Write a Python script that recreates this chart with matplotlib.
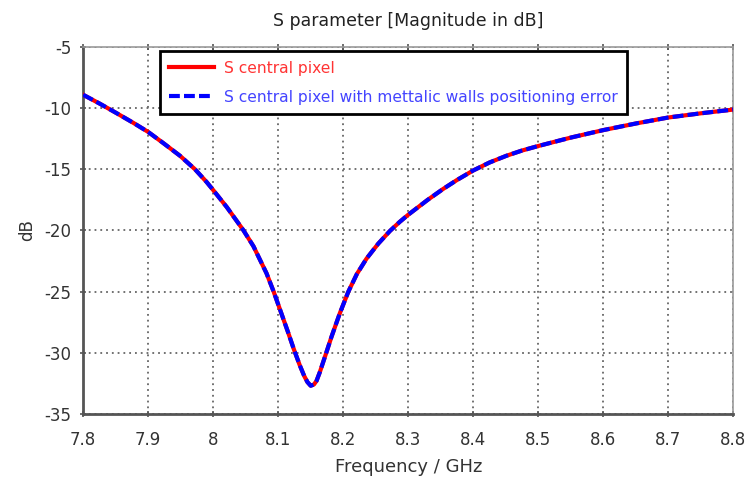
import matplotlib
matplotlib.use('Agg')
import matplotlib.pyplot as plt

# values
freq = [7.800, 7.826, 7.851, 7.877, 7.900, 7.923, 7.949, 7.972, 7.990, 8.000,
        8.021, 8.046, 8.062, 8.082, 8.093, 8.103, 8.115, 8.124, 8.133, 8.140,
        8.145, 8.150, 8.155, 8.159, 8.164, 8.169, 8.174, 8.182, 8.195, 8.208,
        8.221, 8.236, 8.254, 8.272, 8.287, 8.300, 8.330, 8.354, 8.375, 8.400,
        8.425, 8.451, 8.475, 8.500, 8.551, 8.600, 8.651, 8.700, 8.751, 8.800]
s_central = [-8.91, -9.65, -10.4, -11.2, -11.95, -12.85, -13.9, -15.0, -16.05, -16.7,
             -18.1, -19.95, -21.3, -23.5, -25.0, -26.5, -28.3, -29.7, -31.0, -31.9,
             -32.4, -32.7, -32.6, -32.3, -31.6, -30.8, -30.0, -28.7, -26.75, -25.0,
             -23.57, -22.3, -21.08, -20.04, -19.3, -18.72, -17.5, -16.6, -15.88, -15.1,
             -14.45, -13.9, -13.47, -13.1, -12.4, -11.8, -11.25, -10.77, -10.42, -10.12]
s_error = list(s_central)

xticks = [7.8, 7.9, 8.0, 8.1, 8.2, 8.3, 8.4, 8.5, 8.6, 8.7, 8.8]
xtick_labels = ['7.8', '7.9', '8', '8.1', '8.2', '8.3', '8.4', '8.5', '8.6', '8.7', '8.8']
yticks = [-35, -30, -25, -20, -15, -10, -5]

plt.rcParams['font.family'] = ['DejaVu Sans']
plt.rcParams['axes.unicode_minus'] = False

fig = plt.figure(figsize=(7.49, 4.79), dpi=100)
ax = fig.add_axes([0.111, 0.136, 0.868, 0.766])

ax.plot(freq, s_central, color='#ff0000', lw=3, label='S central pixel',
        solid_joinstyle='round', zorder=3)
ax.plot(freq, s_error, color='#0000ff', lw=3, dashes=(2.6, 1.0),
        label='S central pixel with mettalic walls positioning error',
        dash_joinstyle='round', zorder=4)

ax.set_xlim(7.8, 8.8)
ax.set_ylim(-35, -5)
ax.set_xticks(xticks)
ax.set_xticklabels(xtick_labels)
ax.set_yticks(yticks)

ax.grid(True, color='#666666', linestyle=(0, (1, 2.2)), linewidth=1.3)

for side in ['left', 'bottom']:
    ax.spines[side].set_color('#555555')
    ax.spines[side].set_linewidth(2)
for side in ['top', 'right']:
    ax.spines[side].set_color('#999999')
    ax.spines[side].set_linewidth(1.2)

ax.tick_params(axis='both', direction='inout', length=5, width=1.2,
               color='#555555', labelsize=12, labelcolor='#333333')
ax.tick_params(axis='x', top=True, pad=10)
ax.tick_params(axis='y', pad=6)

ax.set_title('S parameter [Magnitude in dB]', fontsize=12.5, color='#222222', pad=15)
ax.set_xlabel('Frequency / GHz', fontsize=13, color='#333333', labelpad=6)
ax.set_ylabel('dB', fontsize=12, color='#333333', labelpad=6)

leg = ax.legend(loc='upper left', bbox_to_anchor=(0.118, 0.988), borderaxespad=0,
                fontsize=11.2, handlelength=2.9, fancybox=False, framealpha=1,
                borderpad=0.6, labelspacing=0.9, handletextpad=0.6)
leg.get_frame().set_edgecolor('black')
leg.get_frame().set_linewidth(2)
for txt, col in zip(leg.get_texts(), ['#ff3333', '#4444ff']):
    txt.set_color(col)

fig.savefig('out.png', dpi=100)
